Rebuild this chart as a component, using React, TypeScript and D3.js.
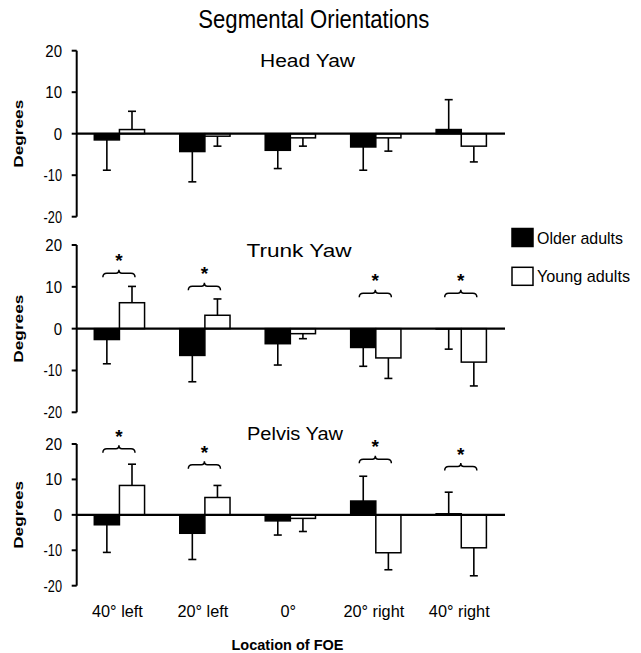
import React from "react";
import * as d3 from "d3";

const categories = ["40° left", "20° left", "0°", "20° right", "40° right"];
const series = ["Older adults", "Young adults"];
const yTicks = [20, 10, 0, -10, -20];

const headOlderMean = [-1.5, -4.3, -4.0, -3.2, 1.0];
const headOlderSd = [7.3, 7.3, 4.4, 5.6, 7.2];
const headYoungMean = [1.0, -0.6, -1.0, -1.0, -3.0];
const headYoungSd = [4.4, 2.4, 2.0, 3.2, 3.8];

const trunkOlderMean = [-2.6, -6.4, -3.6, -4.5, -0.1];
const trunkOlderSd = [5.8, 6.3, 5.1, 4.5, 4.8];
const trunkYoungMean = [6.2, 3.2, -1.2, -7.0, -8.0];
const trunkYoungSd = [3.9, 3.9, 1.2, 4.9, 5.7];
const trunkSigLevel = [12.3, 9.2, null, 7.5, 7.5];

const pelvisOlderMean = [-2.8, -5.2, -1.7, 3.9, 0.3];
const pelvisOlderSd = [7.8, 7.4, 4.0, 7.0, 6.1];
const pelvisYoungMean = [8.3, 4.9, -1.0, -10.7, -9.3];
const pelvisYoungSd = [6.0, 3.4, 3.7, 4.8, 7.9];
const pelvisSigLevel = [17.5, 13.0, null, 14.6, 12.5];

const panelTitles = ["Head Yaw", "Trunk Yaw", "Pelvis Yaw"];

const panels = [
  { title: panelTitles[0], older: headOlderMean, olderSd: headOlderSd, young: headYoungMean, youngSd: headYoungSd, sig: null },
  { title: panelTitles[1], older: trunkOlderMean, olderSd: trunkOlderSd, young: trunkYoungMean, youngSd: trunkYoungSd, sig: trunkSigLevel },
  { title: panelTitles[2], older: pelvisOlderMean, olderSd: pelvisOlderSd, young: pelvisYoungMean, youngSd: pelvisYoungSd, sig: pelvisSigLevel },
];

// layout
const W = 641;
const H = 653;
const FONT = "'Liberation Sans', Arial, sans-serif";
const axisX = 76.7;
const plotRight = 504;
const layouts = [
  { top: 50.7, bottom: 216.7, titleX: 307.5, titleY: 67, titleLen: 95 },
  { top: 245, bottom: 412.3, titleX: 299, titleY: 256.7, titleLen: 105 },
  { top: 444, bottom: 585.7, titleX: 295, titleY: 440, titleLen: 96 },
];

const x0 = d3.scaleBand<string>().domain(categories).range([axisX, plotRight]).paddingInner(0).paddingOuter(0);
const x1 = d3
  .scaleBand<string>()
  .domain(series)
  .range([0, x0.bandwidth()])
  .paddingInner(0)
  .paddingOuter(0.7);

function bracePath(xl: number, xr: number, yb: number) {
  const xc = (xl + xr) / 2;
  const yl = yb - 4;
  const yp = yb - 7.5;
  return `M${xl},${yb} Q${xl},${yl} ${xl + 4},${yl} L${xc - 3},${yl} Q${xc},${yl} ${xc},${yp} Q${xc},${yl} ${xc + 3},${yl} L${xr - 4},${yl} Q${xr},${yl} ${xr},${yb}`;
}

function tickLen(label: string) {
  // narrow, condensed digits as in the reference
  const digits = label.replace("-", "").length;
  return digits * 8.35 + (label.startsWith("-") ? 1.7 : 0);
}

function Panel({ p, l }: { p: any; l: any }) {
  const y = d3.scaleLinear().domain([20, -20]).range([l.top, l.bottom]);
  const y0 = y(0);
  const bw = x1.bandwidth();
  const bars: any[] = [];
  categories.forEach((c, i) => {
    const gx = x0(c)!;
    const items = [
      { s: series[0], m: p.older[i], sd: p.olderSd[i], fill: "#000" },
      { s: series[1], m: p.young[i], sd: p.youngSd[i], fill: "#fff" },
    ];
    items.forEach((it) => {
      const bx = gx + x1(it.s)!;
      const cx = bx + bw / 2;
      const sign = it.m >= 0 ? 1 : -1;
      const eEnd = it.m + sign * it.sd;
      bars.push(
        <g key={c + it.s}>
          <line x1={cx} x2={cx} y1={y(it.m)} y2={y(eEnd)} stroke="#000" strokeWidth={1.6} />
          <line x1={cx - 4} x2={cx + 4} y1={y(eEnd)} y2={y(eEnd)} stroke="#000" strokeWidth={1.6} />
          <rect
            x={bx}
            y={Math.min(y(it.m), y0)}
            width={bw}
            height={Math.abs(y(it.m) - y0)}
            fill={it.fill}
            stroke="#000"
            strokeWidth={1.5}
          />
        </g>
      );
    });
  });
  const sigs: any[] = [];
  if (p.sig) {
    p.sig.forEach((lv: number | null, i: number) => {
      if (lv == null) return;
      const gx = x0(categories[i])!;
      const cxO = gx + x1(series[0])! + bw / 2;
      const cxY = gx + x1(series[1])! + bw / 2;
      const xl = cxO - 4;
      const xr = cxY + 3;
      const yb = y(lv);
      sigs.push(
        <g key={"sig" + i}>
          <path d={bracePath(xl, xr, yb)} fill="none" stroke="#000" strokeWidth={1.5} />
          <text x={(xl + xr) / 2} y={yb - 10} textAnchor="middle" fontSize={19} fontWeight="bold" fontFamily={FONT}>
            *
          </text>
        </g>
      );
    });
  }
  return (
    <g>
      <text x={l.titleX} y={l.titleY} textAnchor="middle" fontSize={17.5} fontFamily={FONT} textLength={l.titleLen} lengthAdjust="spacingAndGlyphs">
        {p.title}
      </text>
      {bars}
      {sigs}
      {/* y axis */}
      <line x1={axisX} x2={axisX} y1={y(20)} y2={y(-20)} stroke="#000" strokeWidth={2} />
      {yTicks.map((t) => (
        <g key={t}>
          <line x1={axisX - 5} x2={axisX} y1={y(t)} y2={y(t)} stroke="#000" strokeWidth={2} />
          <text
            x={62}
            y={y(t) + 6}
            textAnchor="end"
            fontSize={16.3}
            fontFamily={FONT}
            textLength={tickLen(String(t))}
            lengthAdjust="spacingAndGlyphs"
          >
            {t}
          </text>
        </g>
      ))}
      {/* zero line */}
      <line x1={axisX} x2={plotRight + 1} y1={y0} y2={y0} stroke="#000" strokeWidth={2.2} />
      <text
        transform={`translate(22.5,${y0}) rotate(-90)`}
        textAnchor="middle"
        fontSize={13.5}
        fontWeight="bold"
        fontFamily={FONT}
        textLength={68}
        lengthAdjust="spacingAndGlyphs"
      >
        Degrees
      </text>
    </g>
  );
}

export default function App() {
  const legendY = [228.5, 267.3];
  return (
    <svg width={W} height={H} style={{ position: "absolute", left: 0, top: 0, background: "#fff" }}>
      <rect width={W} height={H} fill="#fff" />
      <text x={313.8} y={28} textAnchor="middle" fontSize={25.5} fontFamily={FONT} textLength={231} lengthAdjust="spacingAndGlyphs">
        Segmental Orientations
      </text>
      {panels.map((p, i) => (
        <Panel key={p.title} p={p} l={layouts[i]} />
      ))}
      {categories.map((c) => (
        <text key={c} x={x0(c)! + x0.bandwidth() / 2 - 2} y={616.5} textAnchor="middle" fontSize={16.3} fontFamily={FONT}>
          {c}
        </text>
      ))}
      <text x={287.5} y={650} textAnchor="middle" fontSize={15.5} fontWeight="bold" fontFamily={FONT} textLength={112} lengthAdjust="spacingAndGlyphs">
        Location of FOE
      </text>
      {series.map((s, i) => (
        <g key={s}>
          <rect x={512} y={legendY[i]} width={21} height={18} fill={i === 0 ? "#000" : "#fff"} stroke="#000" strokeWidth={1.5} />
          <text x={537} y={legendY[i] + 15} fontSize={17} fontFamily={FONT} textLength={i === 0 ? 86 : 93} lengthAdjust="spacingAndGlyphs">
            {s}
          </text>
        </g>
      ))}
    </svg>
  );
}
